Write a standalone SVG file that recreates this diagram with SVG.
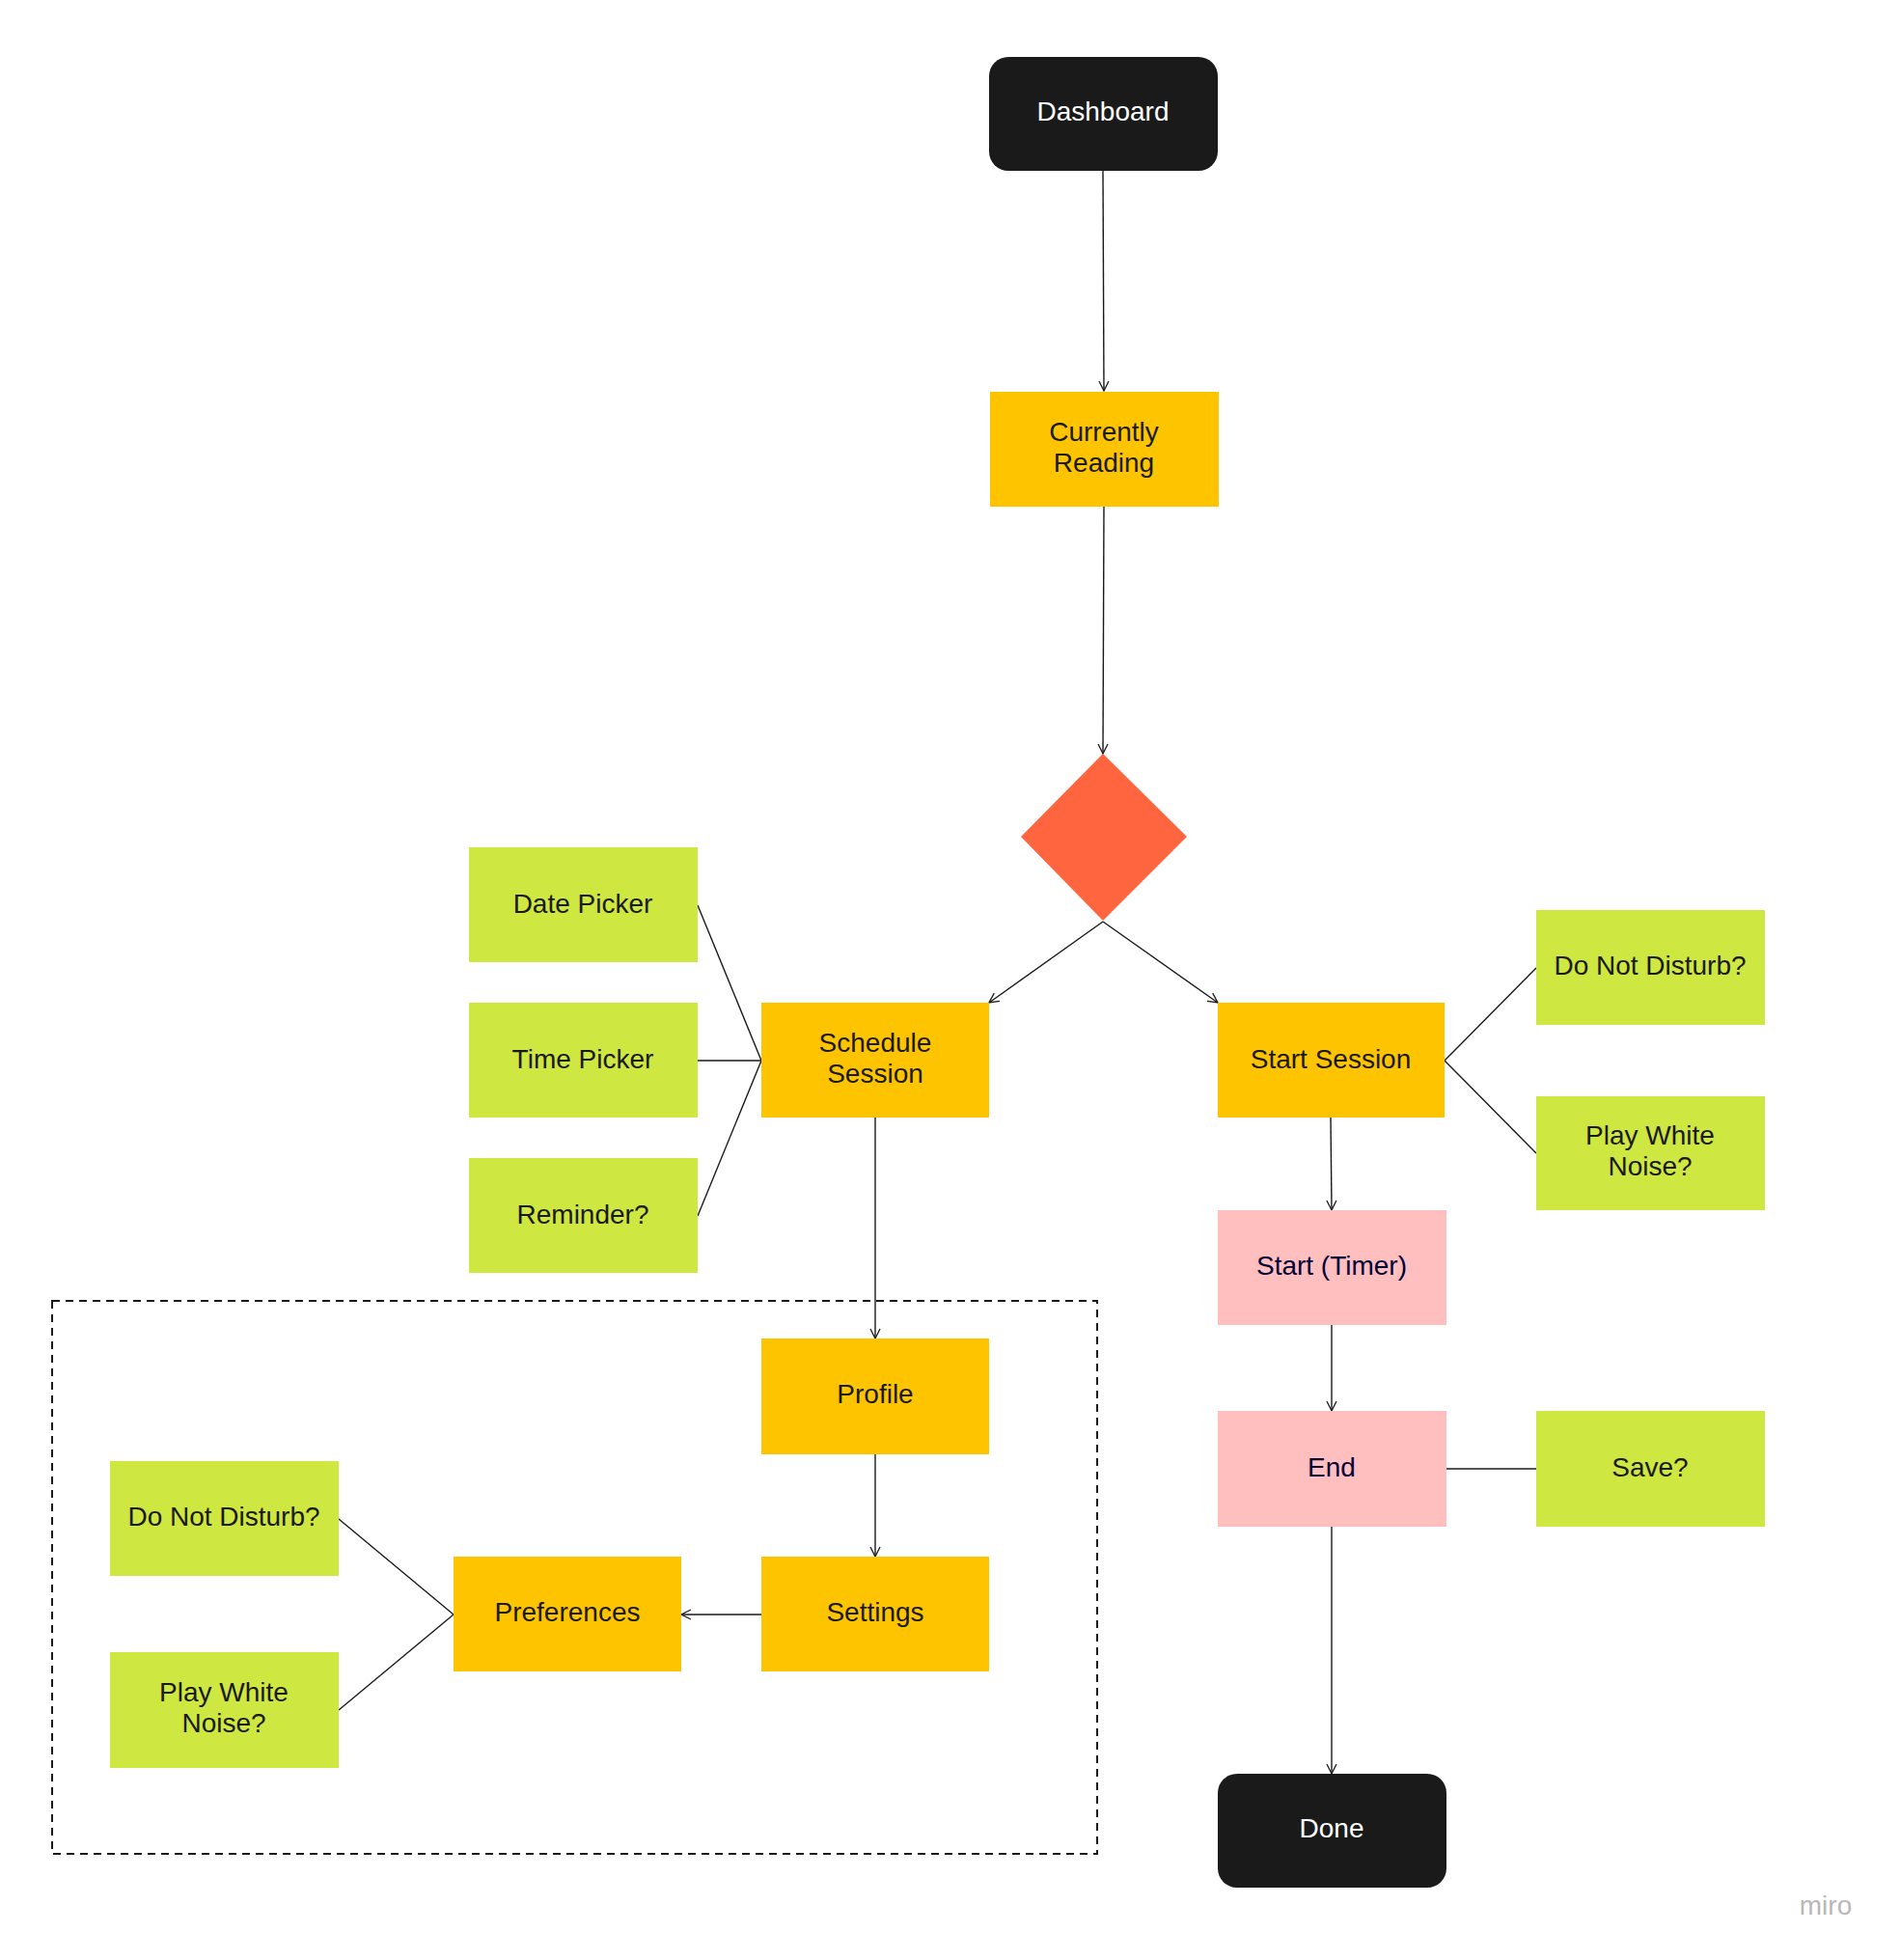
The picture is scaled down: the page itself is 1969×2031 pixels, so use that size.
<svg xmlns="http://www.w3.org/2000/svg" width="1969" height="2031" viewBox="0 0 1969 2031">
<style>
.t{font-family:"Liberation Sans",Arial,sans-serif;font-size:28px;text-anchor:middle;fill:#1a1a1a}
.w{fill:#ffffff}
.n{fill:#050038}
.yel{fill:#FEC400}
.grn{fill:#CEE741}
.pnk{fill:#FFBFBF}
.blk{fill:#1a1a1a}
.c{stroke:#1a1a1a;stroke-width:1.4;fill:none}
</style>
<defs>
<marker id="arr" viewBox="0 0 12 12" refX="11" refY="6" markerWidth="12" markerHeight="12" markerUnits="userSpaceOnUse" orient="auto">
<path d="M1,1 L11,6 L1,11" fill="none" stroke="#1a1a1a" stroke-width="1.3"/>
</marker>
</defs>
<rect width="1969" height="2031" fill="#ffffff"/>
<rect id="group-box" x="54" y="1348" width="1083" height="573" fill="none" stroke="#1a1a1a" stroke-width="2" stroke-dasharray="8,6"/>
<g id="connectors">
<line class="c" x1="1143" y1="177" x2="1144" y2="405" marker-end="url(#arr)"/>
<line class="c" x1="1144" y1="525" x2="1143" y2="781" marker-end="url(#arr)"/>
<line class="c" x1="1143" y1="955" x2="1025" y2="1039" marker-end="url(#arr)"/>
<line class="c" x1="1143" y1="955" x2="1262" y2="1039" marker-end="url(#arr)"/>
<line class="c" x1="723" y1="938" x2="789" y2="1099"/>
<line class="c" x1="723" y1="1099" x2="789" y2="1099"/>
<line class="c" x1="723" y1="1260" x2="789" y2="1099"/>
<line class="c" x1="907" y1="1158" x2="907" y2="1387" marker-end="url(#arr)"/>
<line class="c" x1="907" y1="1507" x2="907" y2="1613" marker-end="url(#arr)"/>
<line class="c" x1="789" y1="1673" x2="706" y2="1673" marker-end="url(#arr)"/>
<line class="c" x1="351" y1="1574" x2="470" y2="1673"/>
<line class="c" x1="351" y1="1772" x2="470" y2="1673"/>
<line class="c" x1="1497" y1="1099" x2="1592" y2="1003"/>
<line class="c" x1="1497" y1="1099" x2="1592" y2="1195"/>
<line class="c" x1="1379" y1="1158" x2="1380" y2="1254" marker-end="url(#arr)"/>
<line class="c" x1="1380" y1="1373" x2="1380" y2="1462" marker-end="url(#arr)"/>
<line class="c" x1="1499" y1="1522" x2="1592" y2="1522"/>
<line class="c" x1="1380" y1="1582" x2="1380" y2="1838" marker-end="url(#arr)"/>
</g>
<g id="dashboard"><rect class="blk" x="1025" y="59" width="237" height="118" rx="20"/><text class="t w" x="1143" y="125">Dashboard</text></g>
<g id="currently-reading"><rect class="yel" x="1026" y="406" width="237" height="119"/><text class="t" x="1144" y="457">Currently</text><text class="t" x="1144" y="489">Reading</text></g>
<g id="decision"><polygon points="1143,781 1230,867 1143,954 1058,867" fill="#FF6640"/></g>
<g id="date-picker"><rect class="grn" x="486" y="878" width="237" height="119"/><text class="t" x="604" y="946">Date Picker</text></g>
<g id="time-picker"><rect class="grn" x="486" y="1039" width="237" height="119"/><text class="t" x="604" y="1107">Time Picker</text></g>
<g id="reminder"><rect class="grn" x="486" y="1200" width="237" height="119"/><text class="t" x="604" y="1268">Reminder?</text></g>
<g id="schedule-session"><rect class="yel" x="789" y="1039" width="236" height="119"/><text class="t" x="907" y="1090">Schedule</text><text class="t" x="907" y="1122">Session</text></g>
<g id="start-session"><rect class="yel" x="1262" y="1039" width="235" height="119"/><text class="t" x="1379" y="1107">Start Session</text></g>
<g id="dnd-right"><rect class="grn" x="1592" y="943" width="237" height="119"/><text class="t" x="1710" y="1010">Do Not Disturb?</text></g>
<g id="pwn-right"><rect class="grn" x="1592" y="1136" width="237" height="118"/><text class="t" x="1710" y="1186">Play White</text><text class="t" x="1710" y="1218">Noise?</text></g>
<g id="start-timer"><rect class="pnk" x="1262" y="1254" width="237" height="119"/><text class="t n" x="1380" y="1321">Start (Timer)</text></g>
<g id="end"><rect class="pnk" x="1262" y="1462" width="237" height="120"/><text class="t n" x="1380" y="1530">End</text></g>
<g id="save"><rect class="grn" x="1592" y="1462" width="237" height="120"/><text class="t" x="1710" y="1530">Save?</text></g>
<g id="done"><rect class="blk" x="1262" y="1838" width="237" height="118" rx="20"/><text class="t w" x="1380" y="1904">Done</text></g>
<g id="profile"><rect class="yel" x="789" y="1387" width="236" height="120"/><text class="t" x="907" y="1454">Profile</text></g>
<g id="settings"><rect class="yel" x="789" y="1613" width="236" height="119"/><text class="t" x="907" y="1680">Settings</text></g>
<g id="preferences"><rect class="yel" x="470" y="1613" width="236" height="119"/><text class="t" x="588" y="1680">Preferences</text></g>
<g id="dnd-left"><rect class="grn" x="114" y="1514" width="237" height="119"/><text class="t" x="232" y="1581">Do Not Disturb?</text></g>
<g id="pwn-left"><rect class="grn" x="114" y="1712" width="237" height="120"/><text class="t" x="232" y="1763">Play White</text><text class="t" x="232" y="1795">Noise?</text></g>
<text x="1892" y="1984" font-family="'Liberation Sans',Arial,sans-serif" font-size="28" fill="#b8b8b8" text-anchor="middle">miro</text>
</svg>
